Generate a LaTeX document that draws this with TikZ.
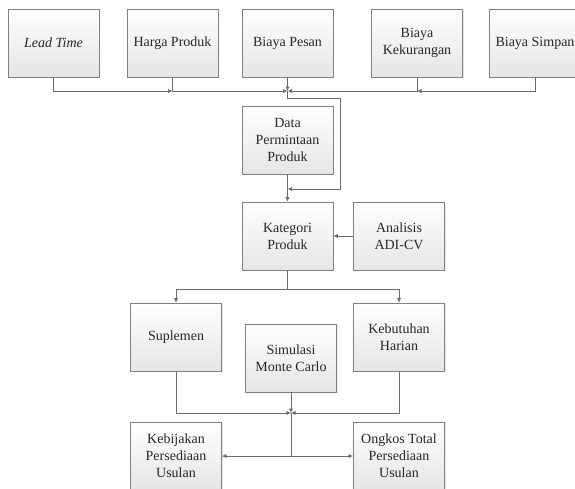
\documentclass[tikz,border=0pt]{standalone}
\usepackage{fontspec}
\setmainfont{Liberation Serif}
\usetikzlibrary{arrows.meta,shadows}
\begin{document}
\begin{tikzpicture}[x=1pt,y=-1pt,
 box/.style={draw=black!50, line width=0.6pt, top color=white, bottom color=black!10,
   minimum width=91pt, minimum height=68pt, align=center,
   font=\fontsize{14}{17}\selectfont, text=black!85, inner sep=2pt,
   drop shadow={shadow xshift=1pt, shadow yshift=-1pt, opacity=0.2}},
 arr/.style={draw=black!58, line width=0.6pt, -{Latex[length=4.5pt,width=4pt]}},
]
\useasboundingbox (0,0) rectangle (575,488);
\clip (0,0) rectangle (575,488);
% top row
\node[box] (lt) at (53.5,43) {\itshape Lead Time};
\node[box] (harga) at (172.5,43) {Harga Produk};
\node[box] (pesan) at (287.5,43) {Biaya Pesan};
\node[box] (kek) at (417,43) {Biaya\\Kekurangan};
\node[box] (simpan) at (535,43) {Biaya Simpan};
% middle
\node[box] (data) at (287.5,140) {Data\\Permintaan\\Produk};
\node[box] (kat) at (287.5,236) {Kategori\\Produk};
\node[box] (adi) at (399,236) {Analisis\\ADI-CV};
\node[box] (sup) at (176,337) {Suplemen};
\node[box] (keb) at (399,337) {Kebutuhan\\Harian};
\node[box] (sim) at (291,358) {Simulasi\\Monte Carlo};
\node[box] (kebij) at (176,456) {Kebijakan\\Persediaan\\Usulan};
\node[box] (ongkos) at (399,456) {Ongkos Total\\Persediaan\\Usulan};
% coordinates
\coordinate (hj) at (172.5,91);
\coordinate (pj) at (287.5,91);
\coordinate (kj) at (417,91);
\coordinate (l1) at (287.5,98);
\coordinate (l2) at (340,98);
\coordinate (l3) at (340,189);
\coordinate (l4) at (287.5,189);
\coordinate (sp) at (287.5,289);
\coordinate (bj) at (291,413);
% top connectors
\draw[arr] (lt.south) |- (hj);
\draw[arr] (harga.south) |- (pj);
\draw[arr] (pesan.south) -- (pj);
\draw[arr] (simpan.south) |- (kj);
\draw[arr] (kek.south) |- (pj);
\draw[arr] (pj) -- (l1) -- (l2) -- (l3) -- (l4);
\draw[arr] (data.south) -- (kat.north);
\draw[arr] (adi.west) -- (kat.east);
\draw[arr] (kat.south) -- (sp) -| (sup.north);
\draw[arr] (kat.south) -- (sp) -| (keb.north);
% bottom connectors
\draw[arr] (sup.south) |- (bj);
\draw[arr] (keb.south) |- (bj);
\draw[arr] (sim.south) -- (bj);
\draw[arr] (bj) |- (kebij.east);
\draw[arr] (bj) |- (ongkos.west);
\end{tikzpicture}
\end{document}
